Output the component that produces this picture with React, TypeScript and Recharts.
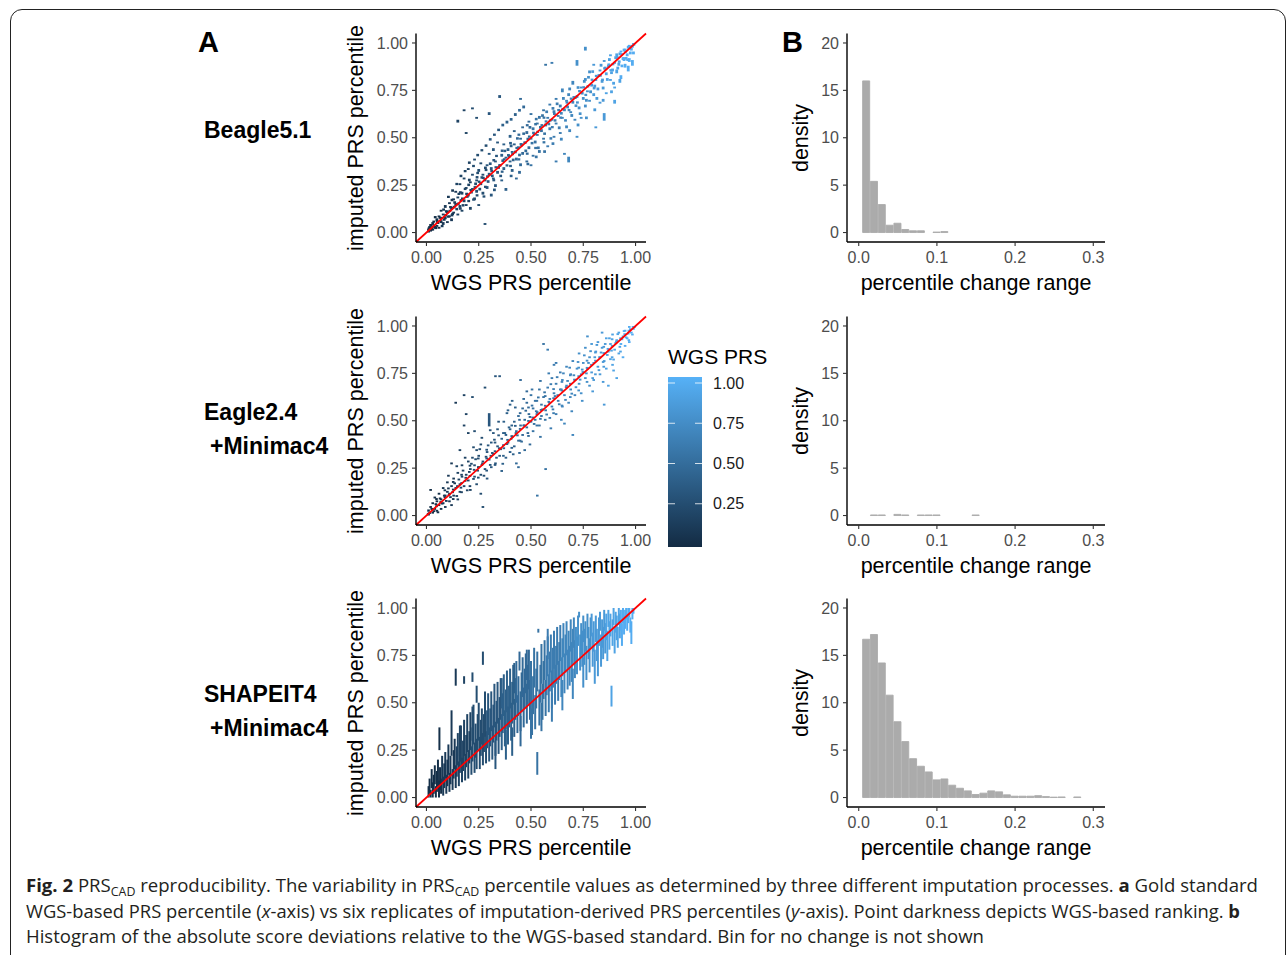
import { ScatterChart, Scatter, XAxis, YAxis, ErrorBar, ReferenceLine, BarChart, Bar } from "recharts";

type Seg = [number, number, number]; // WGS percentile, lowest and highest imputed percentile

const FONT = '"Liberation Sans", Arial, Helvetica, sans-serif';
const CAPTION_FONT = '"Open Sans", "Noto Sans", sans-serif';

const percentTicks = [0, 0.25, 0.5, 0.75, 1];
const densityTicks = [0, 5, 10, 15, 20];
const changeTicks = [0, 0.1, 0.2, 0.3];
const legendTicks = [0.25, 0.5, 0.75, 1];

const binCenters = [
  0.01, 0.02, 0.03, 0.04, 0.05, 0.06, 0.07, 0.08, 0.09, 0.1, 0.11, 0.12, 0.13, 0.14,
  0.15, 0.16, 0.17, 0.18, 0.19, 0.2, 0.21, 0.22, 0.23, 0.24, 0.25, 0.26, 0.27, 0.28,
];
const beagleDensity = [16.0, 5.4, 2.95, 0.77, 0.98, 0.32, 0.18, 0.18, 0, 0.05, 0.1, 0, 0, 0, 0, 0, 0, 0, 0, 0, 0, 0, 0, 0, 0, 0, 0, 0];
const eagleDensity = [0, 0.06, 0.06, 0, 0.12, 0.06, 0, 0.06, 0.06, 0.06, 0, 0, 0, 0, 0.06, 0, 0, 0, 0, 0, 0, 0, 0, 0, 0, 0, 0, 0];
const shapeitDensity = [16.7, 17.2, 14.2, 10.8, 8.0, 5.9, 4.1, 3.3, 2.7, 1.86, 1.96, 1.3, 0.98, 0.7, 0.32, 0.46, 0.7, 0.6, 0.28, 0.14, 0.14, 0.14, 0.2, 0.1, 0.04, 0.06, 0, 0.06];

const beaglePoints: Seg[] = [
  [0.01,0.0,0.02],[0.02,0.03,0.045],[0.02,0.005,0.015],[0.03,0.04,0.055],[0.03,0.01,0.02],[0.04,0.02,0.035],[0.05,0.06,0.075],[0.05,0.03,0.04],
  [0.06,0.02,0.03],[0.06,0.08,0.09],[0.07,0.05,0.065],[0.07,0.11,0.12],[0.08,0.04,0.055],[0.08,0.09,0.1],[0.09,0.07,0.085],[0.09,0.13,0.145],
  [0.1,0.05,0.06],[0.1,0.1,0.115],[0.11,0.15,0.16],[0.11,0.08,0.09],[0.12,0.12,0.135],[0.12,0.06,0.075],[0.13,0.17,0.18],[0.13,0.1,0.11],
  [0.14,0.14,0.155],[0.14,0.21,0.22],[0.15,0.09,0.1],[0.15,0.18,0.19],[0.16,0.13,0.145],[0.16,0.25,0.26],[0.17,0.2,0.215],[0.17,0.11,0.12],
  [0.18,0.16,0.175],[0.18,0.28,0.29],[0.19,0.23,0.24],[0.19,0.14,0.15],[0.2,0.19,0.205],[0.2,0.33,0.34],[0.21,0.26,0.27],[0.21,0.12,0.135],
  [0.22,0.22,0.235],[0.22,0.3,0.31],[0.23,0.17,0.185],[0.23,0.38,0.39],[0.24,0.27,0.28],[0.24,0.21,0.225],[0.25,0.32,0.335],[0.25,0.14,0.15],
  [0.26,0.25,0.265],[0.26,0.36,0.37],[0.27,0.2,0.215],[0.27,0.3,0.31],[0.28,0.27,0.285],[0.28,0.04,0.05],[0.29,0.35,0.36],[0.29,0.23,0.245],
  [0.3,0.3,0.315],[0.3,0.41,0.42],[0.31,0.19,0.205],[0.31,0.33,0.345],[0.32,0.28,0.29],[0.32,0.43,0.445],[0.33,0.37,0.38],[0.33,0.24,0.255],
  [0.34,0.31,0.325],[0.34,0.47,0.48],[0.35,0.35,0.36],[0.35,0.71,0.725],[0.36,0.4,0.415],[0.36,0.27,0.28],[0.37,0.33,0.345],[0.37,0.46,0.47],
  [0.38,0.39,0.4],[0.38,0.22,0.235],[0.39,0.43,0.445],[0.4,0.37,0.38],[0.4,0.5,0.515],[0.41,0.32,0.335],[0.41,0.42,0.43],[0.42,0.46,0.47],
  [0.42,0.53,0.54],[0.43,0.38,0.395],[0.43,0.28,0.29],[0.44,0.44,0.455],[0.45,0.49,0.5],[0.45,0.35,0.365],[0.46,0.55,0.56],[0.46,0.41,0.425],
  [0.47,0.47,0.48],[0.48,0.52,0.535],[0.48,0.37,0.38],[0.49,0.44,0.455],[0.49,0.58,0.59],[0.5,0.49,0.5],[0.5,0.62,0.63],[0.51,0.54,0.555],
  [0.51,0.4,0.41],[0.52,0.47,0.485],[0.53,0.57,0.58],[0.53,0.51,0.52],[0.54,0.6,0.615],[0.54,0.42,0.435],[0.55,0.53,0.545],[0.56,0.64,0.65],
  [0.56,0.49,0.5],[0.57,0.56,0.575],[0.58,0.6,0.61],[0.58,0.45,0.46],[0.59,0.67,0.68],[0.59,0.54,0.555],[0.6,0.59,0.6],[0.6,0.89,0.9],
  [0.61,0.63,0.645],[0.61,0.5,0.51],[0.62,0.7,0.71],[0.62,0.57,0.58],[0.63,0.61,0.62],[0.64,0.66,0.675],[0.64,0.52,0.53],[0.65,0.74,0.76],
  [0.65,0.6,0.61],[0.66,0.64,0.655],[0.67,0.69,0.7],[0.67,0.55,0.565],[0.68,0.37,0.4],[0.68,0.72,0.735],[0.69,0.63,0.64],[0.7,0.68,0.695],
  [0.7,0.78,0.8],[0.71,0.59,0.6],[0.72,0.71,0.725],[0.72,0.88,0.91],[0.73,0.65,0.665],[0.74,0.76,0.77],[0.74,0.6,0.61],[0.75,0.7,0.715],
  [0.76,0.8,0.815],[0.76,0.66,0.675],[0.77,0.74,0.75],[0.78,0.84,0.855],[0.78,0.69,0.7],[0.79,0.77,0.785],[0.8,0.72,0.735],[0.8,0.88,0.89],
  [0.81,0.55,0.56],[0.81,0.8,0.81],[0.82,0.75,0.765],[0.83,0.85,0.86],[0.83,0.68,0.69],[0.84,0.79,0.805],[0.85,0.9,0.91],[0.85,0.59,0.63],
  [0.86,0.83,0.845],[0.86,0.73,0.74],[0.87,0.87,0.885],[0.88,0.8,0.81],[0.88,0.93,0.94],[0.89,0.85,0.865],[0.9,0.89,0.9],[0.9,0.76,0.77],
  [0.91,0.93,0.945],[0.91,0.84,0.86],[0.92,0.88,0.895],[0.93,0.95,0.96],[0.93,0.81,0.83],[0.94,0.91,0.925],[0.95,0.96,0.97],[0.95,0.87,0.89],
  [0.96,0.93,0.945],[0.97,0.98,0.99],[0.97,0.9,0.92],[0.98,0.96,0.975],[0.99,0.99,1.0],[0.99,0.94,0.955],
  [0.15,0.58,0.595],[0.18,0.64,0.65],[0.22,0.65,0.66],[0.19,0.52,0.53],[0.24,0.6,0.61],[0.3,0.62,0.635],[0.45,0.7,0.71],[0.5,0.35,0.36],
  [0.57,0.88,0.89],[0.62,0.37,0.38],[0.66,0.41,0.42],[0.72,0.5,0.51],[0.76,0.96,0.98],[0.9,0.68,0.7],
  [0.015,0.022,0.034],[0.025,0.012,0.024],[0.035,0.052,0.063],[0.045,0.018,0.03],[0.055,0.045,0.058],[0.065,0.072,0.084],[0.075,0.028,0.04],[0.085,0.062,0.075],
  [0.095,0.105,0.118],[0.105,0.078,0.09],[0.115,0.128,0.14],[0.125,0.092,0.104],[0.135,0.152,0.165],[0.145,0.117,0.13],[0.155,0.198,0.21],[0.165,0.163,0.176],
  [0.175,0.137,0.15],[0.185,0.224,0.236],[0.195,0.183,0.196],[0.205,0.27,0.284],[0.215,0.206,0.218],[0.225,0.168,0.18],[0.235,0.25,0.264],[0.245,0.308,0.32],
  [0.255,0.222,0.236],[0.265,0.284,0.297],[0.275,0.184,0.196],[0.285,0.324,0.336],[0.295,0.262,0.276],[0.305,0.356,0.37],[0.315,0.292,0.306],[0.325,0.218,0.232],
  [0.335,0.398,0.41],[0.345,0.336,0.35],[0.355,0.292,0.305],[0.365,0.372,0.386],[0.375,0.424,0.437],[0.385,0.348,0.36],[0.395,0.395,0.41],[0.405,0.45,0.464],
  [0.415,0.376,0.39],[0.425,0.418,0.432],[0.435,0.49,0.503],[0.445,0.402,0.416],[0.455,0.455,0.47],[0.465,0.515,0.528],[0.475,0.424,0.438],[0.485,0.486,0.5],
  [0.495,0.548,0.562],[0.505,0.465,0.478],[0.515,0.512,0.526],[0.525,0.592,0.605],[0.535,0.44,0.454],[0.545,0.548,0.562],[0.555,0.61,0.624],[0.565,0.515,0.528],
  [0.575,0.63,0.644],[0.585,0.566,0.58],[0.595,0.49,0.503],[0.605,0.648,0.662],[0.615,0.585,0.598],[0.625,0.672,0.686],[0.635,0.545,0.56],[0.645,0.622,0.636],
  [0.655,0.7,0.715],[0.665,0.585,0.598],[0.675,0.655,0.67],[0.685,0.75,0.765],[0.695,0.61,0.625],[0.705,0.705,0.72],[0.715,0.662,0.676],[0.725,0.758,0.772],
  [0.735,0.62,0.634],[0.745,0.728,0.742],[0.755,0.79,0.805],[0.765,0.69,0.705],[0.775,0.812,0.826],[0.785,0.735,0.75],[0.795,0.842,0.856],[0.805,0.765,0.78],
  [0.815,0.7,0.715],[0.825,0.822,0.836],[0.835,0.875,0.89],[0.845,0.755,0.77],[0.855,0.86,0.875],[0.865,0.8,0.815],[0.875,0.905,0.92],[0.885,0.836,0.85],
  [0.895,0.78,0.795],[0.905,0.915,0.93],[0.915,0.86,0.875],[0.925,0.935,0.95],[0.935,0.872,0.886],[0.945,0.955,0.97],[0.955,0.912,0.926],[0.965,0.97,0.985],
  [0.975,0.94,0.955],[0.985,0.975,0.99],[0.985,0.88,0.91],[0.965,0.85,0.88],[0.945,0.905,0.925],
  [0.105,0.182,0.194],[0.125,0.215,0.228],[0.145,0.25,0.262],[0.165,0.292,0.305],[0.185,0.318,0.33],[0.205,0.362,0.375],[0.225,0.345,0.357],[0.245,0.402,0.415],
  [0.265,0.428,0.44],[0.285,0.452,0.465],[0.305,0.485,0.498],[0.325,0.51,0.522],[0.345,0.535,0.548],[0.365,0.56,0.574],[0.385,0.575,0.59],[0.405,0.59,0.604],
  [0.425,0.615,0.63],[0.445,0.638,0.652],[0.465,0.655,0.67],
  [0.405,0.292,0.305],[0.445,0.31,0.325],[0.485,0.355,0.368],[0.525,0.392,0.406],[0.565,0.42,0.434],[0.605,0.462,0.476],[0.645,0.485,0.5],[0.685,0.53,0.545],
  [0.725,0.56,0.575],[0.765,0.598,0.612],[0.805,0.64,0.655],[0.845,0.69,0.705],[0.885,0.735,0.75],[0.925,0.79,0.81],
  [0.012,0.015,0.027],[0.032,0.026,0.038],[0.052,0.05,0.062],[0.072,0.07,0.082],[0.092,0.085,0.098],[0.112,0.108,0.12],[0.132,0.128,0.141],[0.152,0.145,0.158],
  [0.172,0.172,0.185],[0.192,0.198,0.21],[0.212,0.218,0.23],[0.232,0.232,0.245],[0.252,0.262,0.274],[0.272,0.282,0.294],[0.292,0.29,0.302],[0.312,0.318,0.33],
  [0.332,0.338,0.35],[0.352,0.348,0.36],[0.372,0.38,0.392],[0.392,0.402,0.414],[0.412,0.408,0.42],[0.432,0.44,0.452],[0.452,0.46,0.472],[0.472,0.468,0.48],
  [0.492,0.5,0.512],[0.512,0.52,0.532],[0.532,0.525,0.537],[0.552,0.56,0.572],[0.572,0.58,0.592],[0.592,0.585,0.597],[0.612,0.62,0.632],[0.632,0.64,0.652],
  [0.652,0.645,0.657],[0.672,0.68,0.692],[0.692,0.7,0.712],[0.712,0.705,0.717],[0.732,0.74,0.752],[0.752,0.76,0.772],[0.772,0.765,0.777],[0.792,0.8,0.812],
  [0.812,0.82,0.832],[0.832,0.822,0.834],[0.852,0.86,0.872],[0.872,0.88,0.892],[0.892,0.882,0.894],[0.912,0.92,0.932],[0.932,0.935,0.947],[0.952,0.948,0.96],
  [0.972,0.975,0.987],[0.992,0.985,0.997],
  [0.042,0.075,0.087],[0.082,0.115,0.127],[0.122,0.165,0.178],[0.162,0.205,0.218],[0.202,0.245,0.258],[0.242,0.285,0.298],[0.282,0.335,0.348],[0.322,0.375,0.388],
  [0.362,0.425,0.438],[0.402,0.465,0.478],[0.442,0.51,0.522],[0.482,0.56,0.572],[0.522,0.565,0.578],[0.562,0.6,0.612],[0.602,0.55,0.562],[0.642,0.6,0.612],
  [0.682,0.64,0.652],[0.722,0.68,0.692],[0.762,0.72,0.732],[0.802,0.755,0.768],[0.842,0.8,0.812],[0.882,0.85,0.862],[0.922,0.895,0.908],[0.962,0.905,0.918],
  [0.562,0.47,0.482],[0.522,0.44,0.452],[0.482,0.41,0.422],[0.442,0.38,0.392],[0.402,0.345,0.357],[0.362,0.315,0.327],[0.322,0.27,0.282],[0.282,0.235,0.247],
  [0.242,0.19,0.202],[0.202,0.16,0.172],[0.162,0.12,0.132],[0.122,0.085,0.097],
];

const eaglePoints: Seg[] = [
  [0.01,0.0,0.012],[0.01,0.02,0.032],[0.02,0.13,0.14],[0.02,0.04,0.05],[0.03,0.01,0.02],[0.03,0.06,0.07],[0.04,0.03,0.04],[0.04,0.09,0.1],
  [0.05,0.02,0.03],[0.05,0.07,0.08],[0.06,0.05,0.06],[0.06,0.11,0.12],[0.07,0.03,0.04],[0.07,0.08,0.09],[0.08,0.14,0.15],[0.08,0.06,0.07],
  [0.09,0.1,0.11],[0.09,0.04,0.05],[0.1,0.12,0.13],[0.1,0.17,0.18],[0.11,0.07,0.08],[0.11,0.11,0.12],[0.12,0.15,0.16],[0.12,0.05,0.06],
  [0.13,0.19,0.2],[0.13,0.1,0.11],[0.14,0.59,0.6],[0.14,0.14,0.15],[0.15,0.22,0.23],[0.15,0.08,0.09],[0.16,0.16,0.17],[0.16,0.12,0.13],
  [0.17,0.2,0.21],[0.17,0.26,0.27],[0.18,0.63,0.64],[0.18,0.15,0.16],[0.18,0.47,0.48],[0.19,0.21,0.22],[0.19,0.53,0.54],[0.2,0.18,0.19],
  [0.2,0.28,0.29],[0.2,0.43,0.44],[0.21,0.13,0.14],[0.21,0.24,0.25],[0.22,0.62,0.63],[0.22,0.3,0.31],[0.23,0.2,0.21],[0.23,0.26,0.27],
  [0.24,0.34,0.35],[0.24,0.16,0.17],[0.25,0.25,0.26],[0.25,0.31,0.32],[0.26,0.21,0.22],[0.26,0.37,0.38],[0.27,0.04,0.05],[0.27,0.28,0.29],
  [0.28,0.67,0.68],[0.28,0.24,0.25],[0.29,0.33,0.34],[0.29,0.19,0.2],[0.3,0.47,0.54],[0.3,0.29,0.3],[0.31,0.38,0.39],[0.31,0.25,0.26],
  [0.32,0.43,0.44],[0.32,0.32,0.33],[0.33,0.73,0.74],[0.33,0.27,0.28],[0.34,0.36,0.37],[0.34,0.45,0.46],[0.35,0.73,0.74],[0.35,0.31,0.32],
  [0.36,0.4,0.41],[0.36,0.23,0.24],[0.37,0.35,0.36],[0.37,0.49,0.5],[0.38,0.42,0.43],[0.38,0.3,0.31],[0.39,0.38,0.39],[0.39,0.55,0.56],
  [0.4,0.45,0.46],[0.4,0.33,0.34],[0.41,0.41,0.42],[0.41,0.6,0.61],[0.42,0.49,0.5],[0.42,0.36,0.37],[0.43,0.44,0.45],[0.43,0.27,0.28],
  [0.44,0.52,0.53],[0.44,0.39,0.4],[0.45,0.47,0.48],[0.45,0.71,0.72],[0.46,0.56,0.57],[0.46,0.42,0.43],[0.47,0.5,0.51],[0.47,0.34,0.35],
  [0.48,0.59,0.6],[0.48,0.46,0.47],[0.49,0.53,0.54],[0.5,0.49,0.5],[0.5,0.63,0.64],[0.51,0.44,0.45],[0.51,0.56,0.57],[0.52,0.6,0.61],
  [0.52,0.5,0.51],[0.53,0.1,0.11],[0.53,0.54,0.55],[0.54,0.66,0.67],[0.54,0.47,0.48],[0.55,0.58,0.59],[0.55,0.52,0.53],[0.56,0.9,0.91],
  [0.56,0.62,0.63],[0.57,0.24,0.25],[0.57,0.55,0.56],[0.58,0.87,0.88],[0.58,0.67,0.68],[0.59,0.51,0.52],[0.59,0.61,0.62],[0.6,0.72,0.73],
  [0.6,0.57,0.58],[0.61,0.79,0.8],[0.61,0.64,0.65],[0.62,0.53,0.54],[0.62,0.69,0.7],[0.63,0.6,0.61],[0.64,0.75,0.76],[0.64,0.66,0.67],
  [0.65,0.57,0.58],[0.65,0.71,0.72],[0.66,0.63,0.64],[0.67,0.78,0.79],[0.67,0.68,0.69],[0.68,0.59,0.6],[0.69,0.74,0.75],[0.69,0.66,0.67],
  [0.7,0.42,0.43],[0.7,0.81,0.82],[0.71,0.71,0.72],[0.71,0.63,0.64],[0.72,0.77,0.78],[0.73,0.69,0.7],[0.73,0.85,0.86],[0.74,0.74,0.75],
  [0.74,0.64,0.65],[0.75,0.8,0.81],[0.76,0.72,0.73],[0.76,0.88,0.89],[0.77,0.94,0.95],[0.77,0.77,0.78],[0.78,0.68,0.69],[0.78,0.83,0.84],
  [0.79,0.9,0.91],[0.79,0.75,0.76],[0.8,0.8,0.81],[0.8,0.71,0.72],[0.81,0.86,0.87],[0.82,0.78,0.79],[0.82,0.91,0.92],[0.83,0.83,0.84],
  [0.83,0.74,0.75],[0.84,0.88,0.89],[0.85,0.58,0.59],[0.85,0.81,0.82],[0.86,0.93,0.94],[0.86,0.77,0.78],[0.87,0.86,0.87],[0.88,0.9,0.91],
  [0.88,0.82,0.83],[0.89,0.95,0.96],[0.89,0.79,0.8],[0.9,0.87,0.88],[0.91,0.72,0.73],[0.91,0.92,0.93],[0.92,0.85,0.86],[0.92,0.96,0.97],
  [0.93,0.9,0.91],[0.94,0.94,0.95],[0.94,0.83,0.84],[0.95,0.97,0.98],[0.95,0.89,0.9],[0.96,0.93,0.94],[0.97,0.99,1.0],[0.97,0.91,0.92],
  [0.98,0.96,0.97],[0.99,0.98,0.99],[0.84,0.96,0.97],[0.87,0.68,0.69],[0.66,0.48,0.49],[0.62,0.8,0.81],[0.48,0.65,0.66],[0.44,0.25,0.26],
  [0.4,0.58,0.59],[0.23,0.44,0.45],[0.16,0.34,0.35],[0.12,0.27,0.28],[0.26,0.11,0.12],
  [0.015,0.008,0.018],[0.025,0.03,0.04],[0.035,0.018,0.028],[0.045,0.055,0.065],[0.055,0.012,0.022],[0.065,0.085,0.095],[0.075,0.058,0.068],[0.085,0.1,0.11],
  [0.095,0.072,0.082],[0.105,0.138,0.148],[0.115,0.092,0.102],[0.125,0.118,0.128],[0.135,0.165,0.175],[0.145,0.098,0.108],[0.155,0.185,0.195],[0.165,0.142,0.152],
  [0.175,0.232,0.242],[0.185,0.178,0.188],[0.195,0.128,0.138],[0.205,0.225,0.235],[0.215,0.268,0.278],[0.225,0.188,0.198],[0.235,0.292,0.302],[0.245,0.232,0.242],
  [0.255,0.345,0.355],[0.265,0.262,0.272],[0.275,0.205,0.215],[0.285,0.305,0.315],[0.295,0.365,0.375],[0.305,0.262,0.272],[0.315,0.325,0.335],[0.325,0.395,0.405],
  [0.335,0.3,0.31],[0.345,0.418,0.428],[0.355,0.345,0.355],[0.365,0.268,0.278],[0.375,0.43,0.44],[0.385,0.372,0.382],[0.395,0.46,0.47],[0.405,0.4,0.41],
  [0.415,0.318,0.328],[0.425,0.468,0.478],[0.435,0.418,0.428],[0.445,0.5,0.51],[0.455,0.385,0.395],[0.465,0.47,0.48],[0.475,0.548,0.558],[0.485,0.43,0.44],
  [0.495,0.515,0.525],[0.505,0.575,0.585],[0.515,0.478,0.488],[0.525,0.545,0.555],[0.535,0.618,0.628],[0.545,0.505,0.515],[0.555,0.555,0.565],[0.565,0.645,0.655],
  [0.575,0.528,0.538],[0.585,0.595,0.605],[0.595,0.688,0.698],[0.605,0.555,0.565],[0.615,0.625,0.635],[0.625,0.725,0.735],[0.635,0.582,0.592],[0.645,0.66,0.67],
  [0.655,0.745,0.755],[0.665,0.605,0.615],[0.675,0.705,0.715],[0.685,0.775,0.785],[0.695,0.638,0.648],[0.705,0.735,0.745],[0.715,0.672,0.682],[0.725,0.805,0.815],
  [0.735,0.712,0.722],[0.745,0.765,0.775],[0.755,0.84,0.85],[0.765,0.745,0.755],[0.775,0.8,0.81],[0.785,0.862,0.872],[0.795,0.72,0.73],[0.805,0.83,0.84],
  [0.815,0.895,0.905],[0.825,0.762,0.772],[0.835,0.855,0.865],[0.845,0.805,0.815],[0.855,0.9,0.91],[0.865,0.842,0.852],[0.875,0.93,0.94],[0.885,0.865,0.875],
  [0.895,0.818,0.828],[0.905,0.905,0.915],[0.915,0.952,0.962],[0.925,0.885,0.895],[0.935,0.925,0.935],[0.945,0.968,0.978],[0.955,0.935,0.945],[0.965,0.955,0.965],
  [0.975,0.978,0.988],[0.985,0.95,0.96],[0.995,0.99,1.0],
  [0.105,0.205,0.215],[0.145,0.255,0.265],[0.185,0.3,0.31],[0.225,0.355,0.365],[0.265,0.405,0.415],[0.305,0.445,0.455],[0.345,0.49,0.5],[0.385,0.535,0.545],
  [0.425,0.565,0.575],[0.465,0.61,0.62],[0.505,0.66,0.67],[0.545,0.705,0.715],[0.585,0.745,0.755],[0.445,0.325,0.335],[0.495,0.37,0.38],[0.545,0.41,0.42],
  [0.595,0.455,0.465],[0.645,0.5,0.51],[0.695,0.545,0.555],[0.745,0.6,0.61],[0.795,0.65,0.66],[0.845,0.7,0.71],[0.895,0.76,0.77],
  [0.008,0.004,0.014],[0.028,0.03,0.04],[0.048,0.044,0.054],[0.068,0.066,0.076],[0.088,0.092,0.102],[0.108,0.104,0.114],[0.128,0.132,0.142],[0.148,0.15,0.16],
  [0.168,0.166,0.176],[0.188,0.194,0.204],[0.208,0.204,0.214],[0.228,0.236,0.246],[0.248,0.25,0.26],[0.268,0.27,0.28],[0.288,0.296,0.306],[0.308,0.31,0.32],
  [0.328,0.334,0.344],[0.348,0.35,0.36],[0.368,0.366,0.376],[0.388,0.394,0.404],[0.408,0.414,0.424],[0.428,0.43,0.44],[0.448,0.452,0.462],[0.468,0.47,0.48],
  [0.488,0.494,0.504],[0.508,0.512,0.522],[0.528,0.53,0.54],[0.548,0.552,0.562],[0.568,0.574,0.584],[0.588,0.59,0.6],[0.608,0.614,0.624],[0.628,0.63,0.64],
  [0.648,0.654,0.664],[0.668,0.672,0.682],[0.688,0.69,0.7],[0.708,0.712,0.722],[0.728,0.73,0.74],[0.748,0.752,0.762],[0.768,0.774,0.784],[0.788,0.79,0.8],
  [0.808,0.812,0.822],[0.828,0.83,0.84],[0.848,0.852,0.862],[0.868,0.874,0.884],[0.888,0.89,0.9],[0.908,0.912,0.922],[0.928,0.93,0.94],[0.948,0.952,0.962],
  [0.968,0.97,0.98],[0.988,0.99,1.0],
  [0.048,0.082,0.092],[0.088,0.128,0.138],[0.128,0.172,0.182],[0.168,0.21,0.22],[0.208,0.258,0.268],[0.248,0.296,0.306],[0.288,0.342,0.352],[0.328,0.38,0.39],
  [0.368,0.43,0.44],[0.408,0.47,0.48],[0.448,0.535,0.545],[0.488,0.565,0.575],[0.528,0.6,0.61],[0.568,0.625,0.635],[0.608,0.662,0.672],[0.648,0.7,0.71],
  [0.688,0.735,0.745],[0.728,0.775,0.785],[0.768,0.812,0.822],[0.808,0.855,0.865],[0.848,0.885,0.895],[0.888,0.925,0.935],[0.128,0.082,0.092],[0.168,0.118,0.128],
  [0.208,0.15,0.16],[0.248,0.195,0.205],[0.288,0.232,0.242],[0.328,0.262,0.272],[0.368,0.31,0.32],[0.408,0.352,0.362],[0.448,0.39,0.4],[0.488,0.415,0.425],
  [0.528,0.47,0.48],[0.568,0.5,0.51],[0.608,0.535,0.545],[0.648,0.575,0.585],[0.688,0.62,0.63],[0.728,0.655,0.665],[0.768,0.7,0.71],[0.808,0.74,0.75],
  [0.848,0.78,0.79],[0.888,0.83,0.84],[0.928,0.86,0.87],[0.968,0.92,0.93],
];

const shapeitPoints: Seg[] = [
  [0.01,0.0,0.06],[0.015,0.02,0.1],[0.02,0.0,0.04],[0.025,0.05,0.15],[0.03,0.0,0.08],[0.035,0.02,0.12],[0.04,0.07,0.17],[0.045,0.0,0.06],
  [0.05,0.03,0.14],[0.055,0.06,0.2],[0.06,0.0,0.09],[0.062,0.25,0.37],[0.065,0.04,0.16],[0.07,0.02,0.1],[0.075,0.08,0.22],[0.08,0.01,0.11],
  [0.085,0.05,0.18],[0.09,0.1,0.24],[0.095,0.02,0.12],[0.1,0.06,0.2],
  [0.105,0.12,0.28],[0.11,0.03,0.13],[0.115,0.07,0.22],[0.12,0.22,0.46],[0.125,0.04,0.15],[0.13,0.1,0.25],[0.135,0.15,0.31],[0.14,0.59,0.68],
  [0.14,0.05,0.17],[0.145,0.11,0.27],[0.15,0.17,0.34],[0.155,0.06,0.19],[0.16,0.13,0.29],[0.165,0.19,0.38],[0.17,0.08,0.21],[0.175,0.14,0.3],
  [0.18,0.6,0.64],[0.18,0.22,0.41],[0.185,0.09,0.23],[0.19,0.16,0.33],[0.195,0.24,0.44],[0.2,0.1,0.25],[0.205,0.18,0.35],[0.21,0.25,0.45],
  [0.215,0.12,0.27],[0.22,0.61,0.66],[0.22,0.19,0.37],[0.225,0.28,0.49],[0.23,0.13,0.29],[0.235,0.21,0.39],[0.24,0.5,0.59],[0.24,0.15,0.31],
  [0.245,0.25,0.44],[0.25,0.3,0.5],[0.255,0.15,0.32],[0.26,0.22,0.41],[0.265,0.28,0.47],[0.27,0.7,0.77],[0.27,0.17,0.34],[0.275,0.24,0.44],
  [0.28,0.32,0.52],[0.285,0.18,0.35],[0.29,0.26,0.46],[0.295,0.33,0.55],
  [0.3,0.19,0.37],[0.305,0.27,0.47],[0.31,0.35,0.56],[0.315,0.2,0.38],[0.32,0.29,0.49],[0.325,0.37,0.6],[0.33,0.22,0.4],[0.335,0.3,0.51],
  [0.34,0.39,0.61],[0.345,0.23,0.42],[0.35,0.32,0.53],[0.355,0.41,0.63],[0.36,0.25,0.44],[0.365,0.34,0.55],[0.37,0.43,0.65],[0.375,0.27,0.46],
  [0.38,0.36,0.57],[0.385,0.45,0.67],[0.39,0.28,0.48],[0.395,0.37,0.59],[0.4,0.47,0.68],[0.405,0.3,0.5],[0.41,0.22,0.37],[0.41,0.39,0.61],
  [0.415,0.49,0.7],[0.42,0.32,0.52],[0.425,0.41,0.63],[0.43,0.5,0.72],[0.435,0.34,0.54],[0.44,0.43,0.64],[0.445,0.67,0.77],[0.45,0.35,0.56],
  [0.455,0.45,0.66],[0.46,0.53,0.74],[0.465,0.37,0.58],[0.47,0.47,0.68],[0.475,0.55,0.76],[0.48,0.39,0.6],[0.485,0.49,0.7],[0.49,0.57,0.78],
  [0.495,0.41,0.62],
  [0.5,0.5,0.72],[0.505,0.33,0.5],[0.51,0.44,0.64],[0.515,0.58,0.79],[0.52,0.36,0.54],[0.525,0.47,0.68],[0.53,0.12,0.24],[0.53,0.56,0.77],
  [0.535,0.87,0.89],[0.54,0.38,0.57],[0.545,0.5,0.7],[0.55,0.6,0.81],[0.555,0.41,0.6],[0.56,0.52,0.72],[0.565,0.62,0.83],[0.57,0.43,0.62],
  [0.575,0.54,0.75],[0.58,0.64,0.85],[0.585,0.45,0.65],[0.59,0.56,0.77],[0.595,0.66,0.86],[0.6,0.47,0.67],[0.605,0.58,0.79],[0.61,0.68,0.88],
  [0.615,0.49,0.7],[0.62,0.6,0.8],[0.625,0.7,0.9],[0.63,0.51,0.72],[0.635,0.62,0.82],[0.64,0.72,0.91],[0.645,0.53,0.74],[0.65,0.64,0.84],
  [0.655,0.74,0.92],[0.66,0.55,0.76],[0.665,0.66,0.86],[0.67,0.75,0.93],[0.675,0.57,0.78],[0.68,0.68,0.88],[0.685,0.59,0.8],[0.69,0.77,0.94],
  [0.695,0.61,0.82],
  [0.7,0.7,0.89],[0.705,0.79,0.95],[0.71,0.63,0.83],[0.715,0.72,0.9],[0.72,0.65,0.85],[0.725,0.8,0.96],[0.73,0.95,0.98],[0.735,0.67,0.86],
  [0.74,0.75,0.92],[0.745,0.69,0.88],[0.75,0.82,0.96],[0.755,0.7,0.89],[0.76,0.77,0.93],[0.765,0.62,0.8],[0.77,0.84,0.97],[0.775,0.73,0.9],
  [0.78,0.66,0.84],[0.785,0.79,0.95],[0.79,0.85,0.97],[0.795,0.69,0.87],[0.8,0.77,0.93],[0.805,0.6,0.78],[0.81,0.82,0.96],[0.815,0.72,0.89],
  [0.82,0.64,0.83],[0.825,0.8,0.95],[0.83,0.88,0.98],[0.835,0.69,0.86],[0.84,0.79,0.94],[0.845,0.73,0.9],[0.85,0.88,0.99],[0.855,0.76,0.92],
  [0.86,0.83,0.97],[0.865,0.72,0.88],[0.87,0.9,0.99],[0.875,0.78,0.93],[0.88,0.85,0.97],[0.885,0.48,0.59],[0.89,0.8,0.94],[0.895,0.91,1.0],
  [0.9,0.76,0.9],[0.905,0.87,0.98],[0.91,0.83,0.96],[0.915,0.79,0.9],[0.92,0.91,1.0],[0.925,0.84,0.97],[0.93,0.88,0.99],[0.935,0.8,0.92],
  [0.94,0.92,1.0],[0.945,0.86,0.96],[0.95,0.89,0.99],[0.955,0.94,1.0],[0.96,0.88,0.97],[0.965,0.92,1.0],[0.97,0.95,1.0],[0.975,0.87,0.95],
  [0.98,0.81,0.93],[0.985,0.94,1.0],[0.99,0.97,1.0],
  [0.33,0.15,0.3],[0.38,0.2,0.36],[0.45,0.27,0.43],[0.5,0.31,0.47],[0.55,0.35,0.5],[0.6,0.4,0.55],[0.65,0.46,0.62],[0.7,0.52,0.68],
  [0.75,0.58,0.74],[0.58,0.73,0.89],[0.48,0.62,0.78],[0.42,0.55,0.71],[0.36,0.47,0.63],[0.28,0.38,0.56],[0.22,0.3,0.48],[0.16,0.22,0.38],
];

const rows = [
  { label: ["Beagle5.1"], points: beaglePoints, density: beagleDensity, mark: 2.8 },
  { label: ["Eagle2.4", "+Minimac4"], points: eaglePoints, density: eagleDensity, mark: 2.6 },
  { label: ["SHAPEIT4", "+Minimac4"], points: shapeitPoints, density: shapeitDensity, mark: 2 },
];
const ROW_OFFSETS = [0, 283, 565];

// ggplot2 default continuous colour scale
const LOW = [19, 43, 67];
const HIGH = [86, 177, 247];
function shade(v: number) {
  const c = LOW.map((l, i) => Math.round(l + (HIGH[i] - l) * v));
  return `rgb(${c[0]},${c[1]},${c[2]})`;
}

const N_SHADES = 14;
function groupByShade(points: Seg[]) {
  const groups: { color: string; data: { x: number; y: number; err: number[] }[] }[] = [];
  for (let k = 0; k < N_SHADES; k++) groups.push({ color: shade((k + 0.5) / N_SHADES), data: [] });
  points.forEach(([x, lo, hi]) => {
    const k = Math.min(N_SHADES - 1, Math.floor(x * N_SHADES));
    groups[k].data.push({ x, y: lo, err: [0, hi - lo] });
  });
  return groups;
}

const axisLine = { stroke: "#000", strokeWidth: 1.4 };
const tickLine = { stroke: "#333", strokeWidth: 1.1 };
const tickStyle = { fill: "#4d4d4d", fontSize: 16, fontFamily: FONT };

function ScatterPanel({ points, mark }: { points: Seg[]; mark: number }) {
  const groups = groupByShade(points);
  return (
    <ScatterChart width={320} height={280} margin={{ top: 13.5, right: 14, bottom: 0, left: 0 }}>
      <XAxis
        type="number"
        dataKey="x"
        domain={[-0.05, 1.05]}
        allowDataOverflow
        ticks={percentTicks}
        interval={0}
        tickFormatter={(v: number) => v.toFixed(2)}
        height={58}
        tickSize={4}
        tickMargin={6}
        axisLine={axisLine}
        tickLine={tickLine}
        tick={tickStyle}
      />
      <YAxis
        type="number"
        dataKey="y"
        domain={[-0.05, 1.05]}
        allowDataOverflow
        ticks={percentTicks}
        interval={0}
        tickFormatter={(v: number) => v.toFixed(2)}
        width={76}
        tickSize={4}
        tickMargin={4}
        axisLine={axisLine}
        tickLine={tickLine}
        tick={tickStyle}
      />
      {groups.map((g, i) => (
        <Scatter key={i} data={g.data} fill={g.color} shape={() => <g />} isAnimationActive={false}>
          <ErrorBar dataKey="err" direction="y" width={0} stroke={g.color} strokeWidth={mark} isAnimationActive={false} />
        </Scatter>
      ))}
      <ReferenceLine
        segment={[{ x: -0.05, y: -0.05 }, { x: 1.05, y: 1.05 }]}
        stroke="#ff0000"
        strokeWidth={1.7}
        ifOverflow="visible"
      />
    </ScatterChart>
  );
}

function HistPanel({ density }: { density: number[] }) {
  const data = binCenters.map((b, i) => ({ bin: b, density: density[i] }));
  // plot width 258px spans 0.33 units of change
  const binPx = (0.01 * 258) / 0.33;
  return (
    <BarChart width={330} height={280} data={data} margin={{ top: 13.5, right: 5, bottom: 0, left: 0 }} barCategoryGap={0} barGap={0}>
      <XAxis
        type="number"
        dataKey="bin"
        domain={[-0.015, 0.315]}
        allowDataOverflow
        ticks={changeTicks}
        interval={0}
        tickFormatter={(v: number) => v.toFixed(1)}
        height={58}
        tickSize={4}
        tickMargin={6}
        axisLine={axisLine}
        tickLine={tickLine}
        tick={tickStyle}
      />
      <YAxis
        type="number"
        domain={[-1, 21]}
        allowDataOverflow
        ticks={densityTicks}
        interval={0}
        width={67}
        tickSize={4}
        tickMargin={4}
        axisLine={axisLine}
        tickLine={tickLine}
        tick={tickStyle}
      />
      <Bar dataKey="density" fill="#ababab" stroke="#ababab" strokeWidth={0.9} barSize={binPx} isAnimationActive={false} />
    </BarChart>
  );
}

function Legend() {
  const top = 377;
  const h = 170;
  const pos = (v: number) => top + h - 3 - v * 161;
  return (
    <svg width={130} height={230} style={{ position: "absolute", left: 660, top: 330 }}>
      <defs>
        <linearGradient id="wgsGrad" x1="0" y1="1" x2="0" y2="0">
          <stop offset="0%" stopColor={shade(0)} />
          <stop offset="100%" stopColor={shade(1)} />
        </linearGradient>
      </defs>
      <text x={8} y={26} fontFamily={FONT} fontSize={21} fill="#000" dominantBaseline="central">WGS PRS</text>
      <g transform="translate(-660,-330)">
        <rect x={668} y={top} width={34} height={h} fill="url(#wgsGrad)" />
        {legendTicks.map((v) => (
          <g key={v}>
            <line x1={668} x2={675} y1={pos(v)} y2={pos(v)} stroke="#fff" strokeOpacity={0.8} strokeWidth={1} />
            <line x1={695} x2={702} y1={pos(v)} y2={pos(v)} stroke="#fff" strokeOpacity={0.8} strokeWidth={1} />
            <text x={713} y={pos(v)} fontFamily={FONT} fontSize={16} fill="#1a1a1a" dominantBaseline="central">
              {v.toFixed(2)}
            </text>
          </g>
        ))}
      </g>
    </svg>
  );
}

export default function App() {
  return (
    <div style={{ position: "relative", width: 1288, height: 955, overflow: "hidden", background: "#fff" }}>
      <style>{"body{margin:0;overflow:hidden}"}</style>
      <div
        style={{
          position: "absolute",
          left: 10,
          top: 9,
          width: 1274,
          height: 1000,
          border: "1.5px solid #222",
          borderRadius: 12,
        }}
      />
      {rows.map((r, i) => (
        <div key={i}>
          <div style={{ position: "absolute", left: 340, top: 20 + ROW_OFFSETS[i] }}>
            <ScatterPanel points={r.points} mark={r.mark} />
          </div>
          <div style={{ position: "absolute", left: 780, top: 20 + ROW_OFFSETS[i] }}>
            <HistPanel density={r.density} />
          </div>
        </div>
      ))}
      <svg width={1288} height={955} style={{ position: "absolute", left: 0, top: 0, pointerEvents: "none" }}>
        <text x={198} y={42} fontFamily={FONT} fontWeight="bold" fontSize={29} dominantBaseline="central">A</text>
        <text x={782} y={42} fontFamily={FONT} fontWeight="bold" fontSize={29} dominantBaseline="central">B</text>
        {rows.map((r, i) => {
          const off = ROW_OFFSETS[i];
          return (
            <g key={i}>
              {r.label.map((t, j) => (
                <text
                  key={j}
                  x={j === 0 ? 204 : 210}
                  y={(r.label.length === 1 ? 130 : 129 + j * 34) + off}
                  fontFamily={FONT}
                  fontWeight="bold"
                  fontSize={23}
                  dominantBaseline="central"
                >
                  {t}
                </text>
              ))}
              <text
                transform={`translate(356,${138 + off}) rotate(-90)`}
                textAnchor="middle"
                dominantBaseline="central"
                fontFamily={FONT}
                fontSize={21.5}
              >
                imputed PRS percentile
              </text>
              <text x={531} y={283 + off} textAnchor="middle" dominantBaseline="central" fontFamily={FONT} fontSize={21.5}>
                WGS PRS percentile
              </text>
              <text
                transform={`translate(801,${138 + off}) rotate(-90)`}
                textAnchor="middle"
                dominantBaseline="central"
                fontFamily={FONT}
                fontSize={21.5}
              >
                density
              </text>
              <text x={976} y={283 + off} textAnchor="middle" dominantBaseline="central" fontFamily={FONT} fontSize={21.5}>
                percentile change range
              </text>
            </g>
          );
        })}
        <g fontFamily={CAPTION_FONT} fontSize={18} fill="#231f20">
          <text x={26} y={892} textLength={1232} lengthAdjust="spacingAndGlyphs">
            <tspan fontWeight="bold">Fig. 2</tspan> PRS
            <tspan fontSize={12} dy={4}>CAD</tspan>
            <tspan dy={-4}> reproducibility. The variability in PRS</tspan>
            <tspan fontSize={12} dy={4}>CAD</tspan>
            <tspan dy={-4}> percentile values as determined by three different imputation processes. </tspan>
            <tspan fontWeight="bold">a</tspan> Gold standard
          </text>
          <text x={26} y={918} textLength={1214} lengthAdjust="spacingAndGlyphs">
            WGS-based PRS percentile (<tspan fontStyle="italic">x</tspan>-axis) vs six replicates of imputation-derived PRS percentiles (
            <tspan fontStyle="italic">y</tspan>-axis). Point darkness depicts WGS-based ranking. <tspan fontWeight="bold">b</tspan>
          </text>
          <text x={26} y={943} textLength={958} lengthAdjust="spacingAndGlyphs">
            Histogram of the absolute score deviations relative to the WGS-based standard. Bin for no change is not shown
          </text>
        </g>
      </svg>
      <Legend />
    </div>
  );
}
